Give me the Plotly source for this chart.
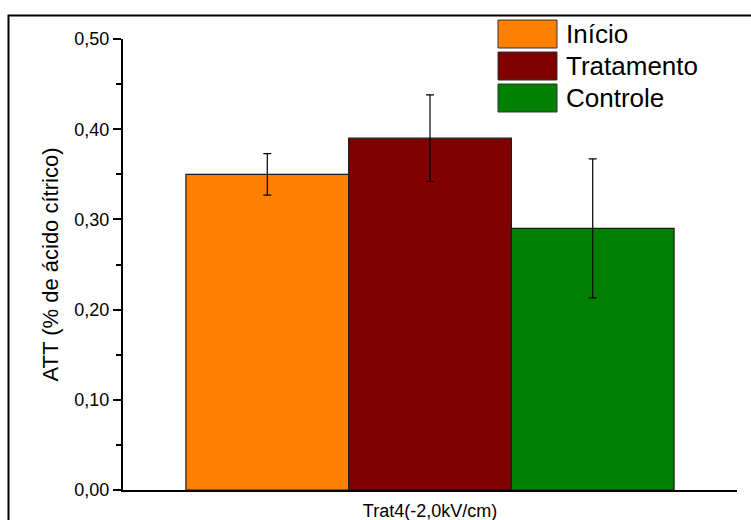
import plotly.graph_objects as go

# ---- data ----
category = ["Trat4(-2,0kV/cm)"]
series_names = ["Início", "Tratamento", "Controle"]
series_values = [0.35, 0.39, 0.29]
series_errors = [0.023, 0.048, 0.077]
series_colors = ["#FF8000", "#800000", "#008000"]
y_tick_values = [0.0, 0.1, 0.2, 0.3, 0.4, 0.5]
y_tick_labels = ["0,00", "0,10", "0,20", "0,30", "0,40", "0,50"]

W, H = 751, 520
L, R, T, B = 123, 14, 39, 30
PW, PH = W - L - R, H - T - B

def px_x(p):
    return (p - L) / PW

def px_y(p):
    return (H - B - p) / PH

FONT = "Liberation Sans, Arial, sans-serif"

fig = go.Figure()
for name, val, err, col in zip(series_names, series_values, series_errors, series_colors):
    fig.add_trace(go.Bar(
        x=category, y=[val], name=name,
        marker=dict(color=col, line=dict(color="#1a1a1a", width=1.2)),
        error_y=dict(type="data", array=[err], color="black", thickness=1.2, width=4),
        showlegend=False,
    ))

shapes = []
annotations = []
# outer frame
shapes.append(dict(type="rect", xref="paper", yref="paper",
                   x0=px_x(8.5), x1=px_x(760), y0=px_y(530), y1=px_y(15.5),
                   line=dict(color="black", width=2), fillcolor="rgba(0,0,0,0)", layer="below"))
# manual legend
legend_rows = [34, 66, 98]
for name, col, cy in zip(series_names, series_colors, legend_rows):
    shapes.append(dict(type="rect", xref="paper", yref="paper",
                       x0=px_x(498), x1=px_x(557), y0=px_y(cy + 14), y1=px_y(cy - 14),
                       line=dict(color="#333333", width=1), fillcolor=col))
    annotations.append(dict(xref="paper", yref="paper", x=px_x(564), y=px_y(cy),
                            xanchor="left", yanchor="middle", text=name, showarrow=False,
                            font=dict(family=FONT, size=26, color="black")))

fig.update_layout(
    width=W, height=H,
    margin=dict(l=L, r=R, t=T, b=B, autoexpand=False),
    paper_bgcolor="white", plot_bgcolor="white",
    barmode="group", bargap=0.205, bargroupgap=0,
    separators=",.",
    font=dict(family=FONT, color="black"),
    shapes=shapes, annotations=annotations,
    xaxis=dict(showline=True, linecolor="black", linewidth=2, ticks="",
               tickfont=dict(size=18), showgrid=False, zeroline=False,
               automargin=False, ticklabelstandoff=3),
    yaxis=dict(range=[0, 0.5], showline=True, linecolor="black", linewidth=2,
               ticks="outside", ticklen=8, tickwidth=1.5, tickcolor="black",
               tickvals=y_tick_values, ticktext=y_tick_labels,
               tickfont=dict(size=18), showgrid=False, zeroline=False, automargin=False,
               minor=dict(ticks="outside", ticklen=5, tickwidth=1.5, tickcolor="black", dtick=0.05),
               title=dict(text="ATT (% de ácido cítrico)", font=dict(size=22), standoff=10)),
)

fig.write_html("out.html", config={"displayModeBar": False},
               post_script="document.body.style.margin='0';document.body.style.overflow='hidden';")
